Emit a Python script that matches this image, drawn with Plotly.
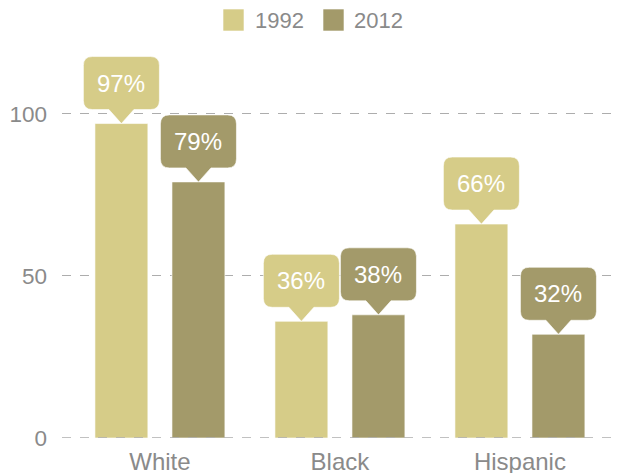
import plotly.graph_objects as go

categories = ["White", "Black", "Hispanic"]
years = ["1992", "2012"]
values_1992 = [97, 36, 66]
values_2012 = [79, 38, 32]
colors = ["#D6CC88", "#A39A6A"]
y_ticks = [0, 50, 100]

FIG_W, FIG_H = 623, 473
ML, MR, MT, MB = 62, 3, 49, 35
PW, PH = FIG_W - ML - MR, FIG_H - MT - MB


def px_x(px):
    return (px - ML) / PW


def px_y(py):
    return (FIG_H - MB - py) / PH


fig = go.Figure()
series = [values_1992, values_2012]
for name, vals, col in zip(years, series, colors):
    fig.add_trace(go.Bar(
        x=categories, y=vals, name=name,
        marker=dict(color=col, line=dict(color="rgba(255,255,255,0.6)", width=1)),
        hoverinfo="skip", showlegend=False,
    ))

# zero baseline dashed line drawn over the bars
fig.add_shape(type="line", xref="paper", yref="y", x0=0, x1=1, y0=0, y1=0,
              line=dict(color="#adadad", width=1.4, dash="dash"), layer="above")

# callout geometry (pixels)
W, H, R, P, B = 76, 53, 9, 14, 12.5
hw = W / 2
path = (f"M 0,0 L {B},{P} L {hw-R},{P} Q {hw},{P} {hw},{P+R} "
        f"L {hw},{P+H-R} Q {hw},{P+H} {hw-R},{P+H} "
        f"L {-hw+R},{P+H} Q {-hw},{P+H} {-hw},{P+H-R} "
        f"L {-hw},{P+R} Q {-hw},{P} {-hw+R},{P} L {-B},{P} Z")

offsets = [-0.214, 0.214]
for s, (vals, col) in enumerate(zip(series, colors)):
    for i, v in enumerate(vals):
        xa = i + offsets[s]
        fig.add_shape(type="path", xref="x", yref="y",
                      xsizemode="pixel", ysizemode="pixel",
                      xanchor=xa, yanchor=v, path=path,
                      fillcolor=col, line=dict(color="rgba(255,255,255,0.6)", width=1),
                      layer="above")
        fig.add_annotation(x=xa, y=v, yshift=P + H / 2, text=f"{v}%",
                           showarrow=False, yanchor="middle",
                           font=dict(color="white", size=24, family="Liberation Sans"))

# manual legend
legend_items = [(223, 253), (323, 352)]
for (sx, tx), name, col in zip(legend_items, years, colors):
    fig.add_shape(type="rect", xref="paper", yref="paper",
                  x0=px_x(sx), x1=px_x(sx + 21), y0=px_y(31), y1=px_y(9),
                  fillcolor=col, line=dict(color="rgba(255,255,255,0.6)", width=1))
    fig.add_annotation(xref="paper", yref="paper", x=px_x(tx), y=px_y(20),
                       xanchor="left", yanchor="middle", showarrow=False, text=name,
                       font=dict(size=22, color="#8a8a8a", family="Liberation Sans"))

fig.update_layout(
    width=FIG_W, height=FIG_H,
    margin=dict(l=ML, r=MR, t=MT, b=MB, autoexpand=False),
    paper_bgcolor="white", plot_bgcolor="white",
    barmode="group", bargap=0.144, bargroupgap=0.313,
    font=dict(family="Liberation Sans", color="#8a8a8a", size=22),
    showlegend=False,
    xaxis=dict(range=[-0.544, 2.556], showgrid=False, zeroline=False,
               showline=False, ticks="", ticklabelstandoff=7,
               tickfont=dict(size=24, color="#8a8a8a")),
    yaxis=dict(range=[0, 120], tickvals=y_ticks, showgrid=True,
               gridcolor="#adadad", griddash="dash", gridwidth=1.4,
               zeroline=False, showline=False, ticks="", ticklabelstandoff=14,
               tickfont=dict(size=22.5, color="#8a8a8a")),
)

fig.write_html("out.html", config={"displayModeBar": False},
               post_script="document.body.style.margin='0';document.body.style.overflow='hidden';")
